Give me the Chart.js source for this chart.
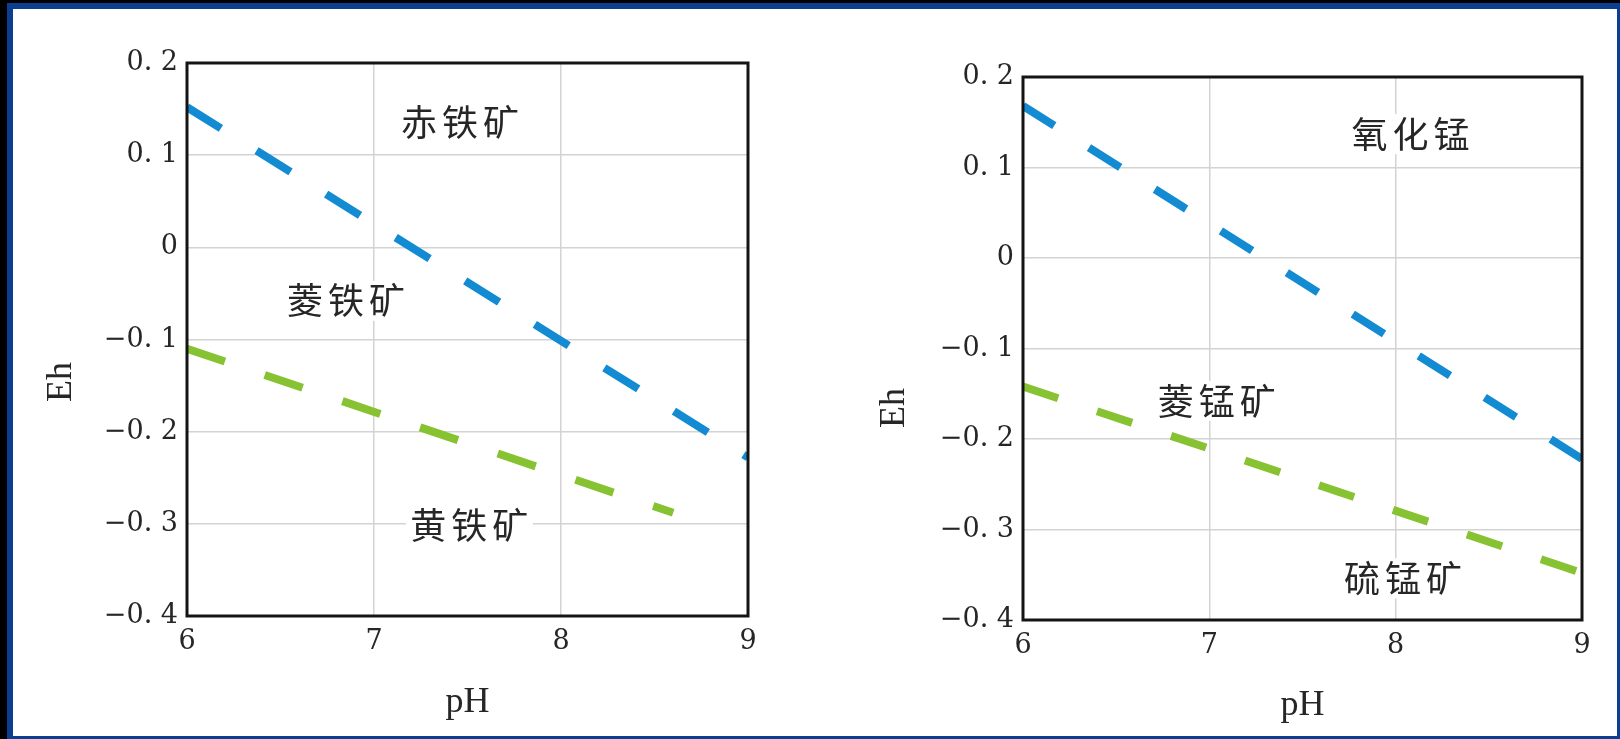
<!DOCTYPE html>
<html>
<head>
<meta charset="utf-8">
<script src="https://cdn.jsdelivr.net/npm/chart.js@4.4.1/dist/chart.umd.min.js"></script>
<style>
html, body { margin: 0; padding: 0; background: #000; width: 1620px; height: 739px; overflow: hidden; }
#frame { position: absolute; left: 7px; top: 3px; width: 1613px; height: 736px; box-sizing: border-box;
  background: #fff; border-style: solid; border-color: #0b3d91; border-width: 6px 3px 3px 6px; }
canvas { position: absolute; top: 0; }
#feChart { left: 0; }
#mnChart { left: 810px; }
</style>
</head>
<body>
<div id="frame"></div>
<canvas id="feChart" width="810" height="739"></canvas>
<canvas id="mnChart" width="810" height="739"></canvas>
<script>
// axes
const ph_ticks = [6, 7, 8, 9];
const ph_tick_labels = ['6', '7', '8', '9'];
const eh_ticks = [-0.4, -0.3, -0.2, -0.1, 0, 0.1, 0.2];
const eh_tick_labels = ['−0. 4', '−0. 3', '−0. 2', '−0. 1', '0', '0. 1', '0. 2'];

// iron: hematite / siderite boundary, siderite / pyrite boundary
const fe_upper_ph = [6, 9];
const fe_upper_eh = [0.152, -0.228];
const fe_lower_ph = [6, 8.6];
const fe_lower_eh = [-0.11, -0.288];
const fe_names = ['赤铁矿', '菱铁矿', '黄铁矿'];
const fe_names_ph = [7.46, 6.85, 7.51];
const fe_names_eh = [0.136, -0.058, -0.302];

// manganese: oxide / rhodochrosite boundary, rhodochrosite / alabandite boundary
const mn_upper_ph = [6, 9];
const mn_upper_eh = [0.168, -0.222];
const mn_lower_ph = [6, 9];
const mn_lower_eh = [-0.142, -0.348];
const mn_names = ['氧化锰', '菱锰矿', '硫锰矿'];
const mn_names_ph = [8.08, 7.04, 8.04];
const mn_names_eh = [0.137, -0.158, -0.354];

const TEXT = '#262626';

const regionPlugin = {
  id: 'regions',
  afterDatasetsDraw(chart, args, opts) {
    const { ctx, chartArea, scales } = chart;
    ctx.save();
    ctx.font = '36px "Noto Sans CJK SC"';
    ctx.letterSpacing = '5px';
    ctx.textAlign = 'center';
    ctx.textBaseline = 'middle';
    opts.names.forEach((name, i) => {
      const x = scales.x.getPixelForValue(opts.ph[i]);
      const y = scales.y.getPixelForValue(opts.eh[i]);
      const w = ctx.measureText(name).width;
      ctx.fillStyle = '#fff';
      ctx.fillRect(x - w / 2 - 2, y - 20, w + 4, 40);
      ctx.fillStyle = TEXT;
      ctx.fillText(name, x + 2.5, y);
    });
    ctx.letterSpacing = '0px';
    ctx.lineWidth = 3;
    ctx.strokeStyle = '#141414';
    ctx.strokeRect(chartArea.left, chartArea.top, chartArea.right - chartArea.left, chartArea.bottom - chartArea.top);
    ctx.font = '36px "Liberation Serif"';
    ctx.fillStyle = TEXT;
    ctx.translate(opts.ehX, opts.ehY);
    ctx.rotate(-Math.PI / 2);
    ctx.fillText('Eh', 0, 0);
    ctx.restore();
  }
};

function points(xs, ys) {
  return xs.map((x, i) => ({ x: x, y: ys[i] }));
}

function makeChart(id, upper, lower, dash, regions, box) {
  return new Chart(document.getElementById(id), {
    type: 'line',
    data: {
      datasets: [{
        data: upper,
        borderColor: '#128bd3',
        borderWidth: 8,
        borderDash: dash,
        borderCapStyle: 'butt',
        pointRadius: 0
      }, {
        data: lower,
        borderColor: '#86c232',
        borderWidth: 8,
        borderDash: dash,
        borderCapStyle: 'butt',
        pointRadius: 0
      }]
    },
    options: {
      responsive: false,
      animation: false,
      devicePixelRatio: 1,
      layout: { padding: { left: 0, right: box.right, top: box.top, bottom: box.bottom } },
      plugins: {
        legend: { display: false },
        tooltip: { enabled: false },
        regions: regions
      },
      scales: {
        x: {
          type: 'linear',
          min: 6,
          max: 9,
          afterBuildTicks: s => { s.ticks = ph_ticks.map(v => ({ value: v })); },
          afterFit: s => { s.height = box.xHeight; },
          ticks: {
            callback: v => ph_tick_labels[ph_ticks.indexOf(v)],
            font: { family: 'DejaVu Serif', size: 27 },
            color: TEXT,
            padding: 10,
            maxRotation: 0
          },
          grid: { color: '#d3d3d3', lineWidth: 1.5, drawTicks: false },
          border: { display: false },
          title: {
            display: true,
            text: 'pH',
            font: { family: 'Liberation Serif', size: 36 },
            color: TEXT,
            padding: 0
          }
        },
        y: {
          min: -0.4,
          max: 0.2,
          afterBuildTicks: s => { s.ticks = eh_ticks.map(v => ({ value: v })); },
          afterFit: s => { s.width = box.yWidth; },
          ticks: {
            callback: v => eh_tick_labels[eh_ticks.findIndex(t => Math.abs(t - v) < 1e-6)],
            font: { family: 'DejaVu Serif', size: 27 },
            color: TEXT,
            padding: 9
          },
          grid: { color: '#d3d3d3', lineWidth: 1.5, drawTicks: false },
          border: { display: false }
        }
      }
    },
    plugins: [regionPlugin]
  });
}

makeChart('feChart',
  points(fe_upper_ph, fe_upper_eh),
  points(fe_lower_ph, fe_lower_eh),
  [40, 42],
  { names: fe_names, ph: fe_names_ph, eh: fe_names_eh, ehX: 62, ehY: 382 },
  { right: 62, top: 63, bottom: 15, xHeight: 108, yWidth: 187 });

makeChart('mnChart',
  points(mn_upper_ph, mn_upper_eh),
  points(mn_lower_ph, mn_lower_eh),
  [37, 41],
  { names: mn_names, ph: mn_names_ph, eh: mn_names_eh, ehX: 85, ehY: 408 },
  { right: 38, top: 77, bottom: 12, xHeight: 107, yWidth: 213 });
</script>
</body>
</html>
